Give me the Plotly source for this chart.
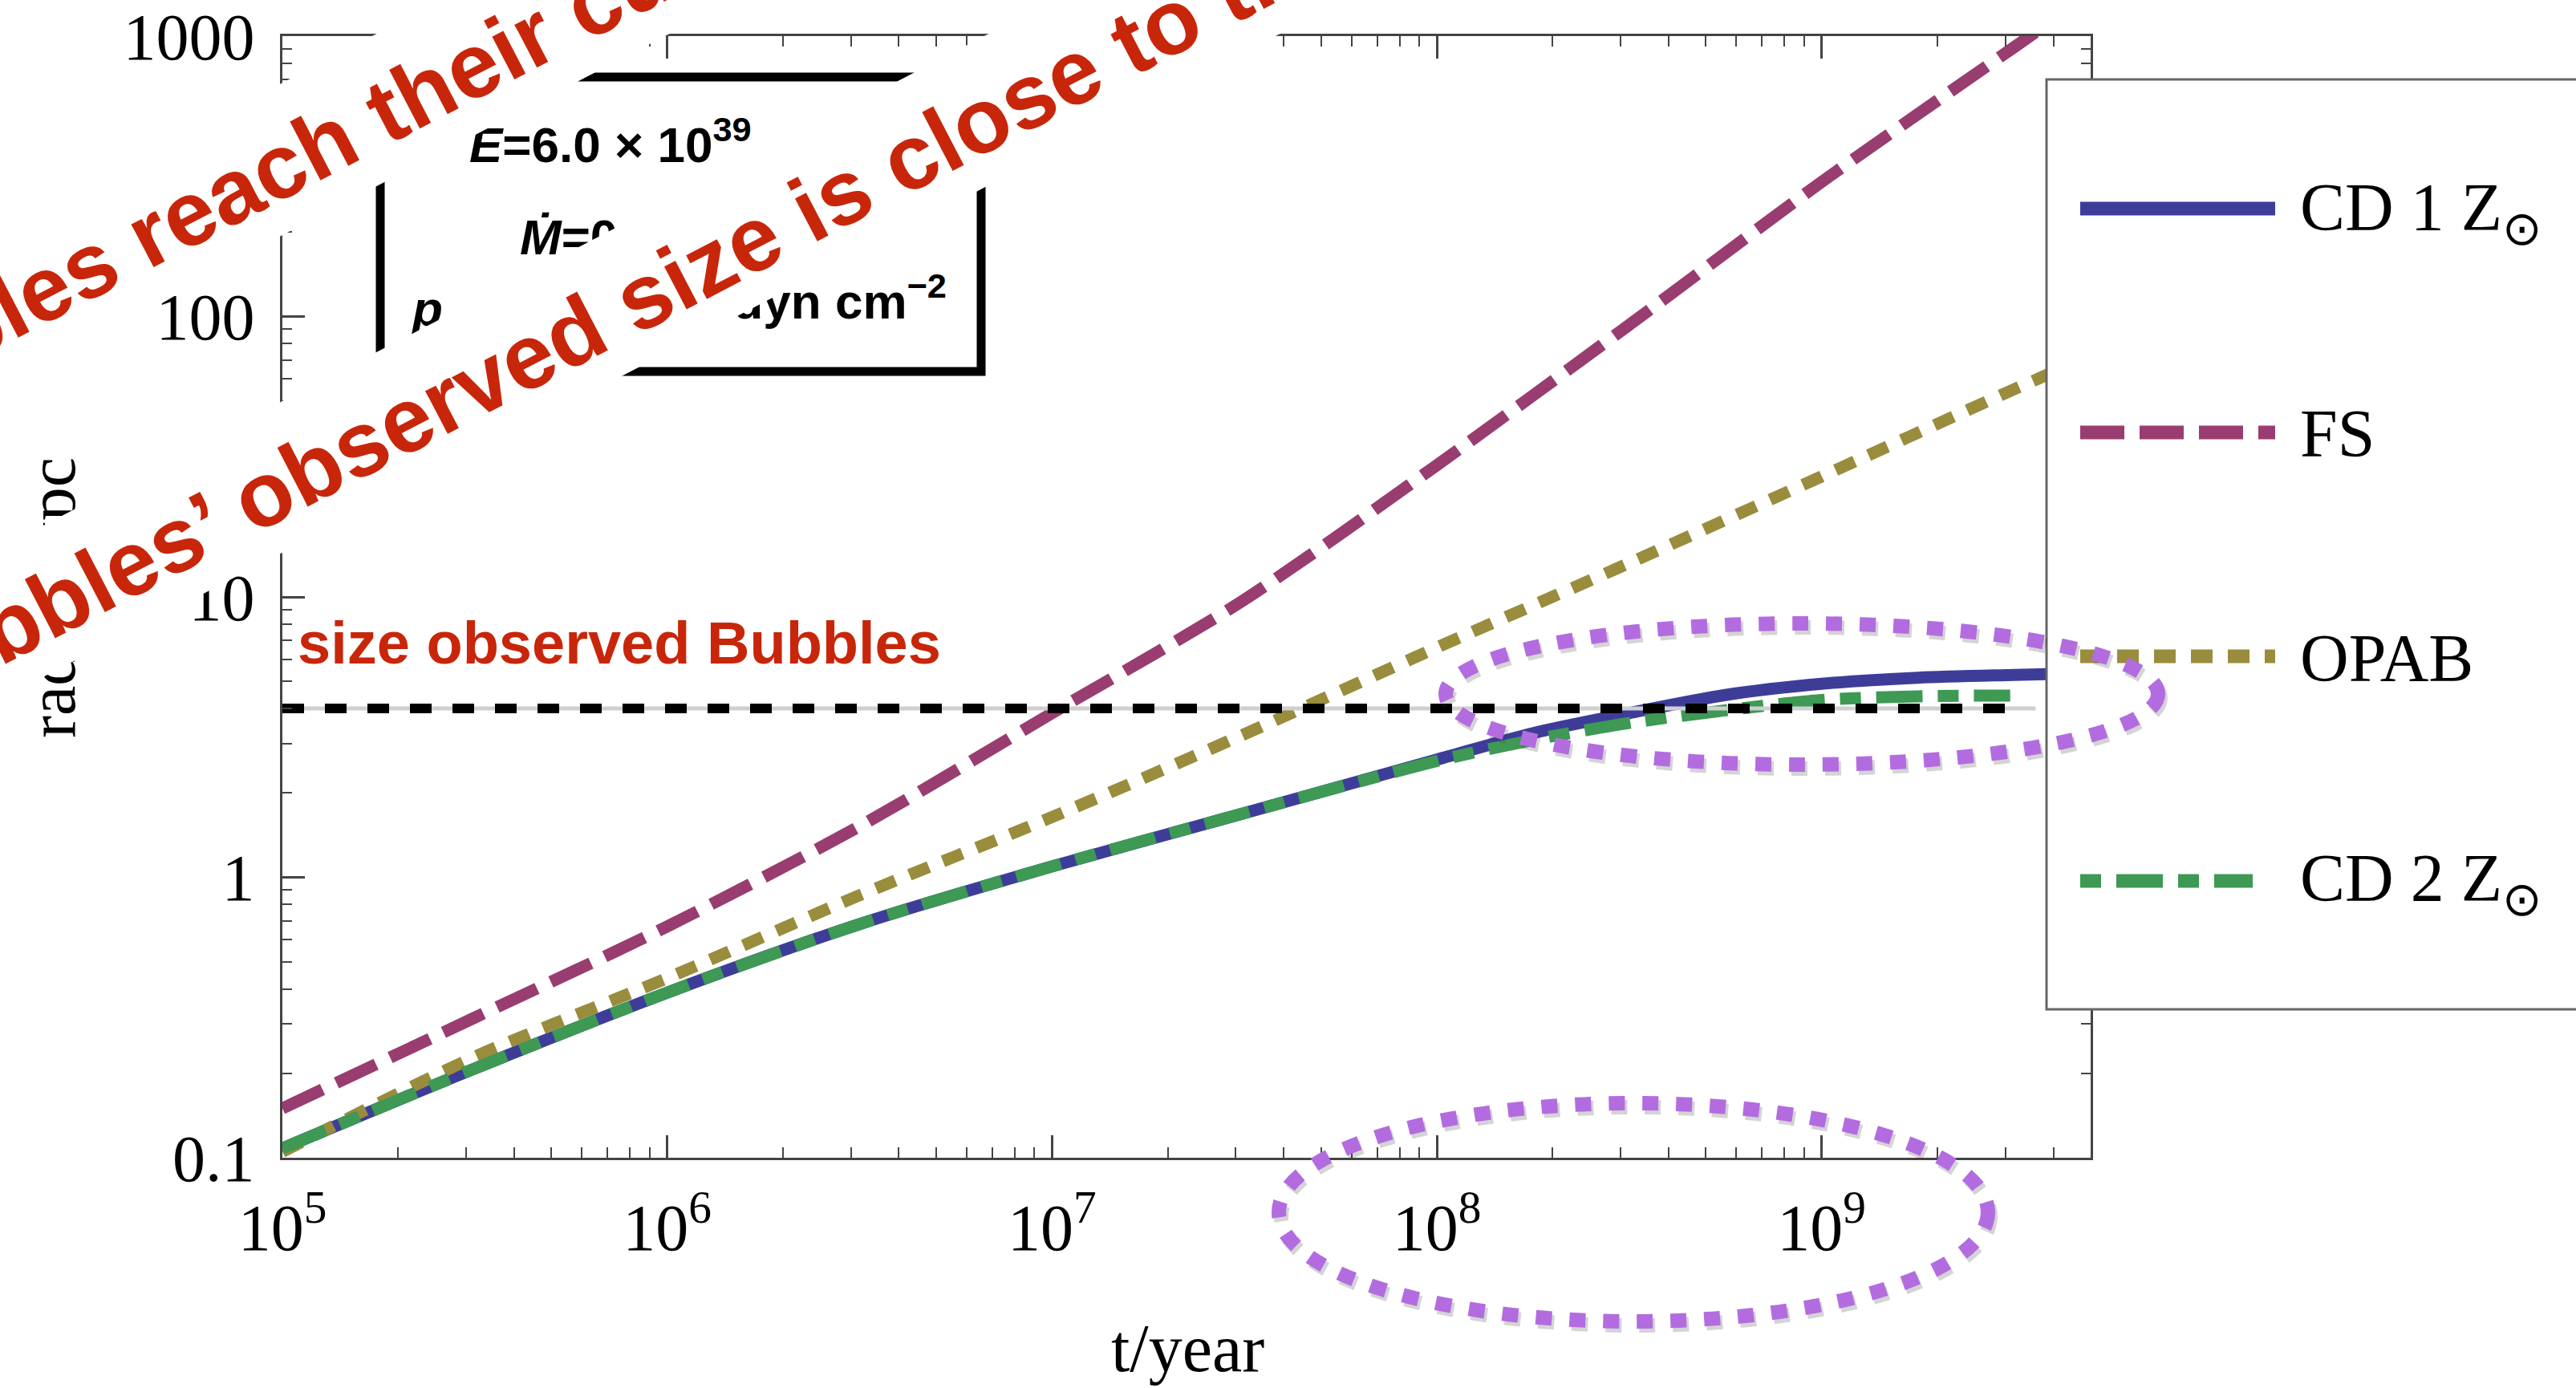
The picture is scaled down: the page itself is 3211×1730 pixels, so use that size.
import plotly.graph_objects as go

# ---------------------------------------------------------------------------
# Data: bubble radius (kpc) versus time (yr) for the different models
# ---------------------------------------------------------------------------
t_main = [1e5, 3.16e5, 1e6, 3.16e6, 1e7, 3.16e7, 1e8, 3.16e8, 1e9, 3.16e9, 5e9]
r_fs = [0.150, 0.316, 0.668, 1.52, 3.85, 9.77, 29.5, 93.3, 302.0, 912.0, 1413.0]
r_opab = [0.105, 0.229, 0.437, 0.863, 1.64, 3.24, 6.6, 13.2, 26.9, 55.0, 72.4]

t_cd1 = [1e5, 3.16e5, 1e6, 3.16e6, 1e7, 3.16e7, 1e8, 1.78e8, 3.16e8, 5.62e8,
         1e9, 1.78e9, 3.16e9, 5e9]
r_cd1 = [0.108, 0.208, 0.388, 0.681, 1.094, 1.694, 2.63, 3.27, 3.85, 4.47,
         4.90, 5.15, 5.27, 5.35]

t_cd2 = [1e5, 3.16e5, 1e6, 3.16e6, 1e7, 3.16e7, 1e8, 1.78e8, 3.16e8, 5.62e8,
         1e9, 1.78e9, 3.09e9]
r_cd2 = [0.108, 0.208, 0.388, 0.681, 1.094, 1.694, 2.60, 3.09, 3.55, 3.94,
         4.29, 4.42, 4.45]

# observed bubble size
r_observed = 4.0
t_observed_line = [1e5, 3.13e9]
t_observed_guide = [1e5, 3.6e9]

series_names = ["CD 1 Z<sub>⊙</sub>", "FS", "OPAB", "CD 2 Z<sub>⊙</sub>"]
series_colors = ["#3D3D99", "#993D70", "#998C3D", "#3D9954"]

x_tick_vals = [1e5, 1e6, 1e7, 1e8, 1e9]
x_tick_text = ["10<sup>5</sup>", "10<sup>6</sup>", "10<sup>7</sup>",
               "10<sup>8</sup>", "10<sup>9</sup>"]
y_tick_vals = [0.1, 1, 10, 100, 1000]
y_tick_text = ["0.1", "1", "10", "100", "1000"]

param_lines = ["<b><i>Ė</i>=6.0 × 10<sup>39</sup></b>", "<b><i>Ṁ</i>=0</b>",
               "<b><i>p</i></b>", "<b>dyn cm<sup>−2</sup></b>"]
note_upper = "Bubbles reach their current"
note_lower = "Bubbles’ observed size is close to the"
note_line = "size observed Bubbles"

# ---------------------------------------------------------------------------
W, H = 3211, 1730
PLOT_L, PLOT_R, PLOT_T, PLOT_B = 352, 2606, 45, 1443
SERIF = "Liberation Serif"
SANS = "Liberation Sans"
RED = "#C8260A"


def px(x):
    return x / W


def py(y):
    return 1 - y / H


minor_x = [k * 10 ** d for d in range(5, 10) for k in range(2, 10) if k * 10 ** d <= 5e9]
minor_y = [k * 10.0 ** d for d in range(-1, 3) for k in range(2, 10)]

fig = go.Figure()

dash_styles = ["solid", "55px,19px", "26px,19px", "58px,19px,26px,19px"]
xs = [t_cd1, t_main, t_main, t_cd2]
ys = [r_cd1, r_fs, r_opab, r_cd2]
for name, color, dash, x, y in zip(series_names, series_colors, dash_styles, xs, ys):
    fig.add_trace(go.Scatter(
        x=x, y=y, mode="lines", name=name, showlegend=False,
        line=dict(color=color, width=15, dash=dash, shape="spline", smoothing=0.8),
    ))

# reference line for the observed size
fig.add_trace(go.Scatter(
    x=t_observed_guide, y=[r_observed] * 2, mode="lines", showlegend=False,
    line=dict(color="#CFCFCF", width=5),
))
fig.add_trace(go.Scatter(
    x=t_observed_line, y=[r_observed] * 2, mode="lines", showlegend=False,
    line=dict(color="black", width=12, dash="27px,26px"),
))

axis_common = dict(
    type="log", showgrid=False, zeroline=False, automargin=False,
    showline=True, linecolor="#444444", linewidth=3, mirror="ticks",
    ticks="inside", ticklen=28, tickwidth=2.5, tickcolor="#444444",
    tickmode="array",
    tickfont=dict(family=SERIF, size=82, color="black"),
)

fig.update_layout(
    width=W, height=H,
    margin=dict(l=0, r=0, t=0, b=0, pad=0),
    paper_bgcolor="white", plot_bgcolor="white",
    showlegend=False,
    xaxis=dict(
        **axis_common,
        domain=[px(PLOT_L), px(PLOT_R)],
        range=[5, 9.699],
        tickvals=x_tick_vals, ticktext=x_tick_text,
        ticklabelstandoff=14,
        minor=dict(tickmode="array", tickvals=minor_x, ticks="inside",
                   ticklen=13, tickwidth=2, tickcolor="#444444"),
    ),
    yaxis=dict(
        **axis_common,
        domain=[py(PLOT_B), py(PLOT_T)],
        range=[-1, 3],
        tickvals=y_tick_vals, ticktext=y_tick_text,
        ticklabelstandoff=15,
        minor=dict(tickmode="array", tickvals=minor_y, ticks="inside",
                   ticklen=12, tickwidth=2, tickcolor="#444444"),
    ),
)

shapes = []


def label_shape(x, y, text, size, family, color="black", angle=0,
                xanchor="center", yanchor="middle"):
    e = 0.0002
    return dict(
        type="rect", xref="paper", yref="paper", layer="above",
        x0=px(x) - e, x1=px(x) + e, y0=py(y) - e, y1=py(y) + e,
        line=dict(width=0), fillcolor="rgba(0,0,0,0)",
        label=dict(text=text, font=dict(family=family, size=size, color=color),
                   textangle=angle, textposition="middle center",
                   xanchor=xanchor, yanchor=yanchor, padding=0),
    )


# legend frame (runs off the right edge)
shapes.append(dict(type="rect", xref="paper", yref="paper", layer="above",
                   x0=px(2551), x1=px(W + 40), y0=py(1258), y1=py(99),
                   line=dict(color="#666666", width=3), fillcolor="white"))
legend_rows = [260, 539, 818, 1098]
legend_dash = ["solid", "55px,19px", "27px,19px", "26px,19px,58px,19px"]
legend_end = [2836, 2836, 2836, 2808]
for yrow, color, dash, xend in zip(legend_rows, series_colors, legend_dash, legend_end):
    shapes.append(dict(type="line", xref="paper", yref="paper", layer="above",
                       x0=px(2593), x1=px(xend), y0=py(yrow), y1=py(yrow),
                       line=dict(color=color, width=17, dash=dash)))

# highlighted regions: dotted ellipses with a soft shadow
ellipses = [(1802, 777, 2690, 953), (1594, 1375, 2478, 1647)]
for (x0, y0, x1, y1) in ellipses:
    shapes.append(dict(type="circle", xref="paper", yref="paper", layer="above",
                       x0=px(x0 + 3), x1=px(x1 + 3), y0=py(y1 + 5), y1=py(y0 + 5),
                       line=dict(color="rgba(60,60,60,0.22)", width=18, dash="20px,22px")))
    shapes.append(dict(type="circle", xref="paper", yref="paper", layer="above",
                       x0=px(x0), x1=px(x1), y0=py(y1), y1=py(y0),
                       line=dict(color="#B36CE0", width=18, dash="20px,22px")))

# parameter box
shapes.append(dict(type="rect", xref="paper", yref="paper", layer="above",
                   x0=px(474), x1=px(1223), y0=py(463), y1=py(96),
                   line=dict(color="black", width=11), fillcolor="white"))
shapes.append(label_shape(585, 218, param_lines[0], 62, SANS, xanchor="left", yanchor="bottom"))
shapes.append(label_shape(648, 324, param_lines[1], 62, SANS, xanchor="left", yanchor="bottom"))
shapes.append(label_shape(514, 413, param_lines[2], 62, SANS, xanchor="left", yanchor="bottom"))
shapes.append(label_shape(1180, 413, param_lines[3], 62, SANS, xanchor="right", yanchor="bottom"))

# y axis title
shapes.append(label_shape(55, 745, "radius/kpc", 84, SERIF, angle=-90))

# white backing strips of the slanted notes
slope = 0.52


def strip(x_up, x_low):
    xa, ya = -200, 45 + (x_up + 200) * slope
    xb, yb = x_up + 245 / slope, -200
    xc, yc = x_low + 245 / slope, -200
    xd, yd = -200, 45 + (x_low + 200) * slope
    path = "M {} {} L {} {} L {} {} L {} {} Z".format(
        px(xa), py(ya), px(xb), py(yb), px(xc), py(yc), px(xd), py(yd))
    return dict(type="path", xref="paper", yref="paper", layer="above",
                path=path, fillcolor="white", line=dict(width=0))


shapes.append(strip(464, 829))
shapes.append(strip(1227, 1590))

fig.update_layout(shapes=shapes)

annotations = [
    dict(x=px(399), y=py(180), text=note_upper, textangle=-27.5),
    dict(x=px(757), y=py(392), text=note_lower, textangle=-27.5),
]
for a in annotations:
    a.update(xref="paper", yref="paper", showarrow=False, xanchor="center",
             yanchor="middle", font=dict(family=SANS, size=114, color=RED, weight="bold"))
    fig.add_annotation(**a)

fig.add_annotation(x=px(369), y=py(801), xref="paper", yref="paper", showarrow=False,
                   text=note_line, xanchor="left", yanchor="middle",
                   font=dict(family=SANS, size=74, color=RED, weight="bold"))

# x axis title
fig.add_annotation(x=px(1480), y=py(1680), xref="paper", yref="paper", showarrow=False,
                   text="t/year", xanchor="center", yanchor="middle",
                   font=dict(family=SERIF, size=84, color="black"))

# legend labels
legend_base = [285, 567, 847, 1121]
for name, base in zip(series_names, legend_base):
    fig.add_annotation(x=px(2865), y=py(base - 75), xref="paper", yref="paper",
                       showarrow=False, text=name, xanchor="left", yanchor="top",
                       font=dict(family=SERIF, size=84, color="black"))

fig.write_html("out.html", config={"displayModeBar": False})
